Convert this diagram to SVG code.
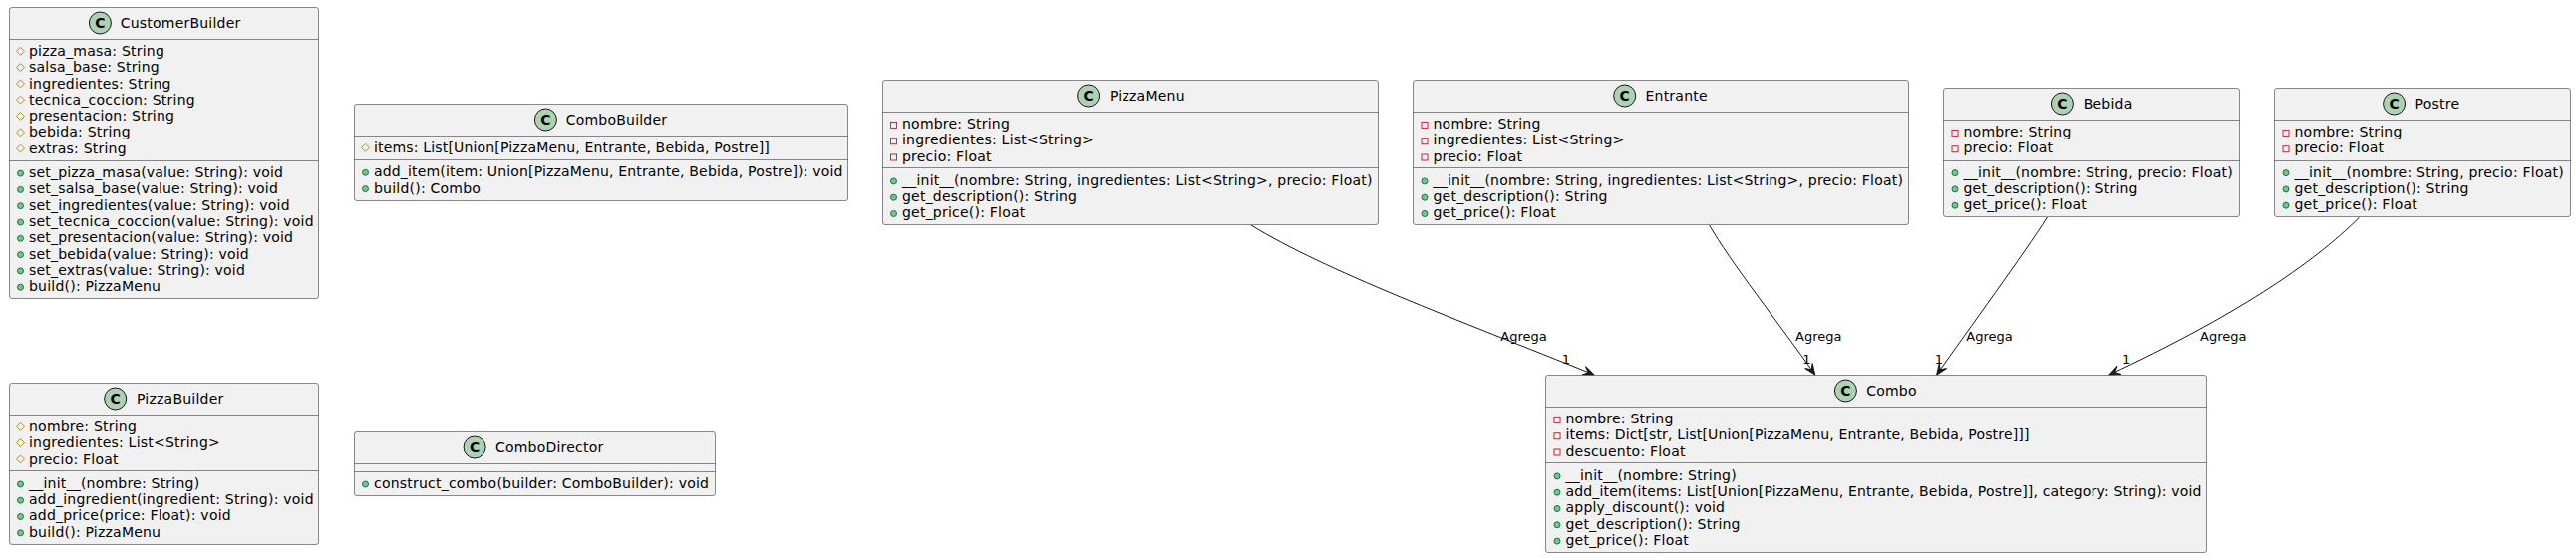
<svg xmlns="http://www.w3.org/2000/svg" xmlns:xlink="http://www.w3.org/1999/xlink" width="2584" height="560" viewBox="0 0 2584 560">
<style>
text{font-family:"DejaVu Sans",sans-serif;font-size:14px;fill:#000;letter-spacing:.22px}
.box{fill:#F1F1F1;stroke:#181818;stroke-width:.5}
.sep{stroke:#181818;stroke-width:.5;fill:none}
.ic{fill:#ADD1B2;stroke:#181818;stroke-width:1}
.cl{font-weight:bold;text-anchor:middle;letter-spacing:0}
.edge{fill:none;stroke:#181818;stroke-width:1}
.lbl{font-size:13px;letter-spacing:0}
.u{letter-spacing:.17px}
.s{letter-spacing:.19px}
</style>
<defs>
<polygon id="prot" points="0,-4.3 4,-.3 0,3.7 -4,-.3" fill="none" stroke="#B38D22" stroke-width="1"/>
<rect id="priv" x="-3" y="-2.2" width="6" height="6" fill="none" stroke="#C82930" stroke-width="1"/>
<circle id="pub" cy=".4" r="3" fill="#84BE84" stroke="#038048" stroke-width="1"/>
<marker id="arrow" markerUnits="userSpaceOnUse" markerWidth="14" markerHeight="12" viewBox="-13 -6 14 12" refX="0" refY="0" orient="auto">
<polygon points="0,0 -11,-4.5 -6,0 -11,4.5" fill="#181818" stroke="#181818" stroke-width="1"/>
</marker>
</defs>
<g id="connectors">
<path class="edge" marker-end="url(#arrow)" d="M1255,226 C1330,272 1460,320 1599,376"/>
<path class="edge" marker-end="url(#arrow)" d="M1714.7,226 C1735,262 1785,325 1820.7,376"/>
<path class="edge" marker-end="url(#arrow)" d="M2053.5,218 C2030,255 1975,330 1942.7,376"/>
<path class="edge" marker-end="url(#arrow)" d="M2366.7,218 C2320,265 2240,318 2116,376"/>
<text class="lbl" x="1505.3" y="342.3">Agrega</text>
<text class="lbl" x="1566.7" y="365">1</text>
<text class="lbl" x="1801" y="342.3">Agrega</text>
<text class="lbl" x="1808.3" y="365">1</text>
<text class="lbl" x="1972.3" y="342.3">Agrega</text>
<text class="lbl" x="1940.7" y="365">1</text>
<text class="lbl" x="2207" y="342.3">Agrega</text>
<text class="lbl" x="2129" y="365">1</text>
</g>
<g id="CustomerBuilder">
<rect class="box" x="9.5" y="7.5" width="310" height="292" rx="2.5"/>
<circle class="ic" cx="100.4" cy="23" r="11"/><text class="cl" x="100.4" y="28">C</text>
<text x="120.7" y="28">CustomerBuilder</text>
<line class="sep" x1="9.5" x2="319.5" y1="39.5" y2="39.5"/><line class="sep" x1="9.5" x2="319.5" y1="161.5" y2="161.5"/>
<use href="#prot" x="20.5" y="51.6"/><text x="29" y="55.995">pizza_masa: String</text>
<use href="#prot" x="20.5" y="67.9"/><text x="29" y="72.292">salsa_base: String</text>
<use href="#prot" x="20.5" y="84.2"/><text x="29" y="88.589">ingredientes: String</text>
<use href="#prot" x="20.5" y="100.5"/><text x="29" y="104.886">tecnica_coccion: String</text>
<use href="#prot" x="20.5" y="116.8"/><text x="29" y="121.183">presentacion: String</text>
<use href="#prot" x="20.5" y="133.1"/><text x="29" y="137.48">bebida: String</text>
<use href="#prot" x="20.5" y="149.4"/><text x="29" y="153.777">extras: String</text>
<use href="#pub" x="20.5" y="173.7"/><text class="s" x="29" y="178.075">set_pizza_masa(value: String): void</text>
<use href="#pub" x="20.5" y="190"/><text class="s" x="29" y="194.372">set_salsa_base(value: String): void</text>
<use href="#pub" x="20.5" y="206.3"/><text class="s" x="29" y="210.669">set_ingredientes(value: String): void</text>
<use href="#pub" x="20.5" y="222.6"/><text class="s" x="29" y="226.966">set_tecnica_coccion(value: String): void</text>
<use href="#pub" x="20.5" y="238.9"/><text class="s" x="29" y="243.263">set_presentacion(value: String): void</text>
<use href="#pub" x="20.5" y="255.2"/><text class="s" x="29" y="259.56">set_bebida(value: String): void</text>
<use href="#pub" x="20.5" y="271.5"/><text class="s" x="29" y="275.857">set_extras(value: String): void</text>
<use href="#pub" x="20.5" y="287.8"/><text x="29" y="292.154">build(): PizzaMenu</text>
</g>
<g id="ComboBuilder">
<rect class="box" x="355.5" y="104.5" width="495" height="97" rx="2.5"/>
<circle class="ic" cx="547.4" cy="120" r="11"/><text class="cl" x="547.4" y="125">C</text>
<text x="567.7" y="125">ComboBuilder</text>
<line class="sep" x1="355.5" x2="850.5" y1="136.5" y2="136.5"/><line class="sep" x1="355.5" x2="850.5" y1="160.5" y2="160.5"/>
<use href="#prot" x="366.5" y="148.6"/><text class="u" x="375" y="152.995">items: List[Union[PizzaMenu, Entrante, Bebida, Postre]]</text>
<use href="#pub" x="366.5" y="172.9"/><text class="u" x="375" y="177.29">add_item(item: Union[PizzaMenu, Entrante, Bebida, Postre]): void</text>
<use href="#pub" x="366.5" y="189.2"/><text x="375" y="193.59">build(): Combo</text>
</g>
<g id="PizzaBuilder">
<rect class="box" x="9.5" y="384.5" width="310" height="162" rx="2.5"/>
<circle class="ic" cx="115.7" cy="400" r="11"/><text class="cl" x="115.7" y="405">C</text>
<text x="137" y="405">PizzaBuilder</text>
<line class="sep" x1="9.5" x2="319.5" y1="416.5" y2="416.5"/><line class="sep" x1="9.5" x2="319.5" y1="472.5" y2="472.5"/>
<use href="#prot" x="20.5" y="428.6"/><text x="29" y="432.995">nombre: String</text>
<use href="#prot" x="20.5" y="444.9"/><text x="29" y="449.29">ingredientes: List&lt;String&gt;</text>
<use href="#prot" x="20.5" y="461.2"/><text x="29" y="465.59">precio: Float</text>
<use href="#pub" x="20.5" y="485.5"/><text x="29" y="489.89">__init__(nombre: String)</text>
<use href="#pub" x="20.5" y="501.8"/><text x="29" y="506.18">add_ingredient(ingredient: String): void</text>
<use href="#pub" x="20.5" y="518.1"/><text x="29" y="522.48">add_price(price: Float): void</text>
<use href="#pub" x="20.5" y="534.4"/><text x="29" y="538.78">build(): PizzaMenu</text>
</g>
<g id="ComboDirector">
<rect class="box" x="355.5" y="433.5" width="362" height="64" rx="2.5"/>
<circle class="ic" cx="476.1" cy="449" r="11"/><text class="cl" x="476.1" y="454">C</text>
<text x="496.9" y="454">ComboDirector</text>
<line class="sep" x1="355.5" x2="717.5" y1="465.5" y2="465.5"/><line class="sep" x1="355.5" x2="717.5" y1="473.5" y2="473.5"/>
<use href="#pub" x="366.5" y="485.6"/><text x="375" y="489.995">construct_combo(builder: ComboBuilder): void</text>
</g>
<g id="PizzaMenu">
<rect class="box" x="885.5" y="80.5" width="497" height="145" rx="2.5"/>
<circle class="ic" cx="1091.6" cy="96" r="11"/><text class="cl" x="1091.6" y="101">C</text>
<text x="1113" y="101">PizzaMenu</text>
<line class="sep" x1="885.5" x2="1382.5" y1="112.5" y2="112.5"/><line class="sep" x1="885.5" x2="1382.5" y1="168.5" y2="168.5"/>
<use href="#priv" x="896.5" y="124.6"/><text x="905" y="128.995">nombre: String</text>
<use href="#priv" x="896.5" y="140.9"/><text x="905" y="145.29">ingredientes: List&lt;String&gt;</text>
<use href="#priv" x="896.5" y="157.2"/><text x="905" y="161.59">precio: Float</text>
<use href="#pub" x="896.5" y="181.5"/><text x="905" y="185.89">__init__(nombre: String, ingredientes: List&lt;String&gt;, precio: Float)</text>
<use href="#pub" x="896.5" y="197.8"/><text x="905" y="202.18">get_description(): String</text>
<use href="#pub" x="896.5" y="214.1"/><text x="905" y="218.48">get_price(): Float</text>
</g>
<g id="Entrante">
<rect class="box" x="1417.5" y="80.5" width="497" height="145" rx="2.5"/>
<circle class="ic" cx="1629.7" cy="96" r="11"/><text class="cl" x="1629.7" y="101">C</text>
<text x="1650.5" y="101">Entrante</text>
<line class="sep" x1="1417.5" x2="1914.5" y1="112.5" y2="112.5"/><line class="sep" x1="1417.5" x2="1914.5" y1="168.5" y2="168.5"/>
<use href="#priv" x="1429" y="124.6"/><text x="1437.5" y="128.995">nombre: String</text>
<use href="#priv" x="1429" y="140.9"/><text x="1437.5" y="145.29">ingredientes: List&lt;String&gt;</text>
<use href="#priv" x="1429" y="157.2"/><text x="1437.5" y="161.59">precio: Float</text>
<use href="#pub" x="1429" y="181.5"/><text x="1437.5" y="185.89">__init__(nombre: String, ingredientes: List&lt;String&gt;, precio: Float)</text>
<use href="#pub" x="1429" y="197.8"/><text x="1437.5" y="202.18">get_description(): String</text>
<use href="#pub" x="1429" y="214.1"/><text x="1437.5" y="218.48">get_price(): Float</text>
</g>
<g id="Bebida">
<rect class="box" x="1949.5" y="88.5" width="297" height="129" rx="2.5"/>
<circle class="ic" cx="2068.4" cy="104" r="11"/><text class="cl" x="2068.4" y="109">C</text>
<text x="2089.7" y="109">Bebida</text>
<line class="sep" x1="1949.5" x2="2246.5" y1="120.5" y2="120.5"/><line class="sep" x1="1949.5" x2="2246.5" y1="161.5" y2="161.5"/>
<use href="#priv" x="1961" y="132.6"/><text x="1969.5" y="136.995">nombre: String</text>
<use href="#priv" x="1961" y="148.9"/><text x="1969.5" y="153.29">precio: Float</text>
<use href="#pub" x="1961" y="173.2"/><text x="1969.5" y="177.59">__init__(nombre: String, precio: Float)</text>
<use href="#pub" x="1961" y="189.5"/><text x="1969.5" y="193.88">get_description(): String</text>
<use href="#pub" x="1961" y="205.8"/><text x="1969.5" y="210.18">get_price(): Float</text>
</g>
<g id="Postre">
<rect class="box" x="2281.5" y="88.5" width="297" height="129" rx="2.5"/>
<circle class="ic" cx="2401.6" cy="104" r="11"/><text class="cl" x="2401.6" y="109">C</text>
<text x="2422.6" y="109">Postre</text>
<line class="sep" x1="2281.5" x2="2578.5" y1="120.5" y2="120.5"/><line class="sep" x1="2281.5" x2="2578.5" y1="161.5" y2="161.5"/>
<use href="#priv" x="2293" y="132.6"/><text x="2301.5" y="136.995">nombre: String</text>
<use href="#priv" x="2293" y="148.9"/><text x="2301.5" y="153.29">precio: Float</text>
<use href="#pub" x="2293" y="173.2"/><text x="2301.5" y="177.59">__init__(nombre: String, precio: Float)</text>
<use href="#pub" x="2293" y="189.5"/><text x="2301.5" y="193.88">get_description(): String</text>
<use href="#pub" x="2293" y="205.8"/><text x="2301.5" y="210.18">get_price(): Float</text>
</g>
<g id="Combo">
<rect class="box" x="1550.5" y="376.5" width="663" height="178" rx="2.5"/>
<circle class="ic" cx="1851.4" cy="392" r="11"/><text class="cl" x="1851.4" y="397">C</text>
<text x="1872.2" y="397">Combo</text>
<line class="sep" x1="1550.5" x2="2213.5" y1="408.5" y2="408.5"/><line class="sep" x1="1550.5" x2="2213.5" y1="464.5" y2="464.5"/>
<use href="#priv" x="1562" y="420.6"/><text x="1570.5" y="424.995">nombre: String</text>
<use href="#priv" x="1562" y="436.9"/><text class="u" x="1570.5" y="441.29">items: Dict[str, List[Union[PizzaMenu, Entrante, Bebida, Postre]]]</text>
<use href="#priv" x="1562" y="453.2"/><text x="1570.5" y="457.59">descuento: Float</text>
<use href="#pub" x="1562" y="477.5"/><text x="1570.5" y="481.89">__init__(nombre: String)</text>
<use href="#pub" x="1562" y="493.8"/><text class="u" x="1570.5" y="498.18">add_item(items: List[Union[PizzaMenu, Entrante, Bebida, Postre]], category: String): void</text>
<use href="#pub" x="1562" y="510.1"/><text x="1570.5" y="514.48">apply_discount(): void</text>
<use href="#pub" x="1562" y="526.4"/><text x="1570.5" y="530.78">get_description(): String</text>
<use href="#pub" x="1562" y="542.7"/><text x="1570.5" y="547.07">get_price(): Float</text>
</g>
</svg>
